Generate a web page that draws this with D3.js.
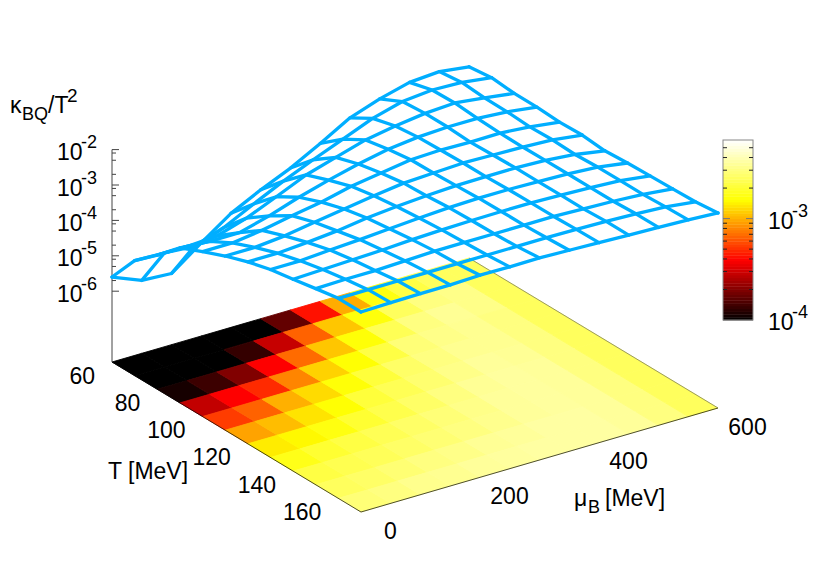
<!DOCTYPE html>
<html><head><meta charset="utf-8">
<script src="https://cdnjs.cloudflare.com/ajax/libs/d3/7.8.5/d3.min.js"></script>
<style>html,body{margin:0;padding:0;background:#fff}svg{display:block}text{font-family:"Liberation Sans",Arial,sans-serif;fill:#000}</style>
</head><body><svg id="c" width="830" height="581"></svg>
<script>
const tValues=[60,70,80,90,100,110,120,130,140,150,160,170];
const muValues=[0,50,100,150,200,250,300,350,400,450,500,550,600];
const zTicks=[-6,-5,-4,-3,-2];
const tTicks=[60,80,100,120,140,160];
const muTicks=[0,200,400,600];
const cbTicks=[-4,-3];
// log10(kappa_BQ/T^2) of the mesh: rows are T, columns are muB
const logKappa=[
[-5.60,-5.94,-5.99,-5.37,-4.78,-4.36,-3.99,-3.54,-3.06,-2.77,-2.55,-2.49,-2.60],
[-4.75,-4.78,-4.84,-4.55,-4.13,-3.73,-3.37,-3.03,-2.69,-2.46,-2.38,-2.41,-2.52],
[-4.21,-4.21,-4.16,-3.90,-3.54,-3.17,-2.92,-2.67,-2.52,-2.41,-2.36,-2.46,-2.58],
[-3.62,-3.68,-3.68,-3.45,-3.17,-2.93,-2.72,-2.55,-2.45,-2.41,-2.41,-2.47,-2.58],
[-3.34,-3.34,-3.23,-3.06,-2.92,-2.72,-2.59,-2.46,-2.43,-2.45,-2.44,-2.51,-2.62],
[-3.08,-3.08,-3.00,-2.86,-2.73,-2.60,-2.49,-2.45,-2.41,-2.43,-2.45,-2.49,-2.60],
[-2.86,-2.86,-2.80,-2.72,-2.60,-2.52,-2.46,-2.42,-2.41,-2.41,-2.44,-2.52,-2.66],
[-2.69,-2.69,-2.63,-2.58,-2.52,-2.46,-2.41,-2.39,-2.39,-2.41,-2.44,-2.49,-2.62],
[-2.58,-2.55,-2.52,-2.49,-2.44,-2.41,-2.39,-2.38,-2.38,-2.41,-2.44,-2.49,-2.60],
[-2.46,-2.44,-2.44,-2.41,-2.38,-2.38,-2.38,-2.38,-2.38,-2.41,-2.44,-2.49,-2.58],
[-2.35,-2.35,-2.35,-2.35,-2.35,-2.35,-2.35,-2.35,-2.36,-2.38,-2.41,-2.46,-2.56],
[-2.35,-2.33,-2.32,-2.32,-2.29,-2.30,-2.29,-2.32,-2.35,-2.38,-2.41,-2.44,-2.49]
];
// log10 colour value of each base-plane cell
const baseLog=[
[-4.50,-4.60,-4.50,-4.30,-4.10,-3.77,-3.37,-3.01,-2.78,-2.66,-2.60,-2.60],
[-4.40,-4.30,-4.10,-3.88,-3.54,-3.18,-2.95,-2.79,-2.60,-2.52,-2.50,-2.60],
[-3.95,-3.86,-3.70,-3.41,-3.16,-2.95,-2.80,-2.62,-2.52,-2.47,-2.50,-2.60],
[-3.55,-3.41,-3.31,-3.10,-2.92,-2.81,-2.66,-2.54,-2.50,-2.48,-2.52,-2.60],
[-3.27,-3.18,-3.00,-2.90,-2.80,-2.68,-2.58,-2.52,-2.48,-2.48,-2.52,-2.60],
[-3.03,-2.97,-2.88,-2.81,-2.68,-2.62,-2.56,-2.50,-2.46,-2.47,-2.52,-2.60],
[-2.86,-2.83,-2.78,-2.70,-2.64,-2.58,-2.52,-2.47,-2.45,-2.46,-2.52,-2.60],
[-2.76,-2.70,-2.66,-2.62,-2.58,-2.54,-2.50,-2.46,-2.45,-2.46,-2.52,-2.60],
[-2.66,-2.63,-2.61,-2.58,-2.55,-2.52,-2.49,-2.46,-2.45,-2.46,-2.52,-2.60],
[-2.60,-2.58,-2.55,-2.52,-2.50,-2.47,-2.46,-2.44,-2.44,-2.46,-2.52,-2.60],
[-2.54,-2.52,-2.49,-2.48,-2.46,-2.45,-2.44,-2.44,-2.44,-2.46,-2.52,-2.60]
];
const svg=d3.select('#c');
const X0=112,Y0=362;
const txS=d3.scaleLinear([60,170],[0,249]), tyS=d3.scaleLinear([60,170],[0,150]);
const mxS=d3.scaleLinear([0,600],[0,357]), myS=d3.scaleLinear([0,600],[0,-104]);
const zS=d3.scaleLinear([-8,-2],[0,-212.4]);
const px=(t,m)=>X0+txS(t)+mxS(m);
const py=(t,m,l)=>Y0+tyS(t)+myS(m)+(l==null?0:zS(l));
const cbS=d3.scaleLinear([-4,-2.225],[0,1]).clamp(true);
const cl=v=>Math.max(0,Math.min(1,v));
const hot=x=>d3.rgb(255*cl(3*x),255*cl(3*x-1),255*cl(3*x-2))+'';
const g=svg.append('g');
baseLog.forEach((row,i)=>row.forEach((m,j)=>{
  const c=hot(cbS(m));
  const p=[[i,j],[i+1,j],[i+1,j+1],[i,j+1]].map(([a,b])=>[px(tValues[a],muValues[b]),py(tValues[a],muValues[b])]);
  g.append('polygon').attr('points',p.join(' ')).attr('fill',c).attr('stroke',c).attr('stroke-width',0.9).attr('stroke-linejoin','round');
}));
const T0=60,T1=170,M1=600;
const edge=(a,b,c,w)=>svg.append('line').attr('x1',a[0]).attr('y1',a[1]).attr('x2',b[0]).attr('y2',b[1]).attr('stroke',c).attr('stroke-width',w);
const cor=(t,m)=>[px(t,m),py(t,m)];
edge(cor(T0,0),cor(T1,0),'#000',0.7);
edge(cor(T1,0),cor(T1,M1),'#000',0.7);
edge(cor(T1,M1),cor(T0,M1),'#555',0.6);
const ax='#444';
edge([X0,Y0],[X0,Y0+zS(-2)],ax,1);
zTicks.forEach(d=>{const y=Y0+zS(d);edge([X0,y],[X0+7,y],ax,1);});
d3.range(-6,-2).forEach(d=>[2,5,8].forEach(k=>{
  const y=Y0+zS(d+Math.log10(k));
  edge([X0,y],[X0+4,y],ax,1);
}));
const wire=svg.append('g').attr('fill','none').attr('stroke','#00aeff').attr('stroke-width',3.3).attr('stroke-linejoin','round').attr('stroke-linecap','round');
const line=d3.line();
tValues.forEach((t,i)=>wire.append('path').attr('d',line(muValues.map((m,j)=>[px(t,m),py(t,m,logKappa[i][j])]))));
muValues.forEach((m,j)=>wire.append('path').attr('d',line(tValues.map((t,i)=>[px(t,m),py(t,m,logKappa[i][j])]))));
const FS=23,SS=18;
function pow(x,y,e){
  svg.append('text').attr('x',x).attr('y',y).attr('font-size',FS).text('10');
  svg.append('text').attr('x',x+24).attr('y',y-12).attr('font-size',SS).text(e);
}
zTicks.forEach(d=>pow(57,Y0+zS(d)+10.5,String(d)));
tTicks.forEach(t=>svg.append('text').attr('x',px(t,0)-17).attr('y',py(t,0)+21.5).attr('text-anchor','end').attr('font-size',FS).text(t));
muTicks.forEach(m=>svg.append('text').attr('x',px(T1,m)+29.5).attr('y',py(T1,m)+26.5).attr('text-anchor','middle').attr('font-size',FS).text(m));
svg.append('text').attr('x',108).attr('y',479).attr('font-size',FS).text('T [MeV]');
const mu=svg.append('text').attr('y',506).attr('font-size',FS);
mu.append('tspan').attr('x',574).text('μ');
mu.append('tspan').attr('x',588).attr('font-size',SS).attr('dy',7).text('B');
mu.append('tspan').attr('x',605).attr('dy',-7).text('[MeV]');
const k=svg.append('text').attr('y',113).attr('font-size',FS);
k.append('tspan').attr('x',10).text('κ');
k.append('tspan').attr('x',22).attr('font-size',SS).attr('dy',7).text('BQ');
k.append('tspan').attr('x',48).attr('dy',-7).text('/T');
k.append('tspan').attr('x',67).attr('font-size',SS+1).attr('dy',-11).text('2');
const cbY=d3.scaleLinear([-4,-2.225],[320,140]);
const BX=723,BW=30;
d3.range(0,64).forEach(n=>{
  const a=-4+1.775*n/64,b=-4+1.775*(n+1)/64;
  svg.append('rect').attr('x',BX).attr('width',BW).attr('y',cbY(b)).attr('height',cbY(a)-cbY(b)+0.4).attr('fill',hot(cbS((a+b)/2)));
});
svg.append('rect').attr('x',BX).attr('y',140).attr('width',BW).attr('height',180).attr('fill','none').attr('stroke','#888').attr('stroke-width',1);
const mins=[];
[-4,-3].forEach(d=>d3.range(2,10).forEach(q=>{const v=d+Math.log10(q);if(v<-2.225)mins.push(v);}));
mins.forEach(v=>{edge([BX,cbY(v)],[BX+4,cbY(v)],'#222',1);edge([BX+BW-4,cbY(v)],[BX+BW,cbY(v)],'#222',1);});
edge([BX,cbY(-3)],[BX+7,cbY(-3)],'#777',1);edge([BX+BW-7,cbY(-3)],[BX+BW,cbY(-3)],'#777',1);
cbTicks.forEach(d=>pow(768,cbY(d)+10,String(d)));
</script></body></html>
